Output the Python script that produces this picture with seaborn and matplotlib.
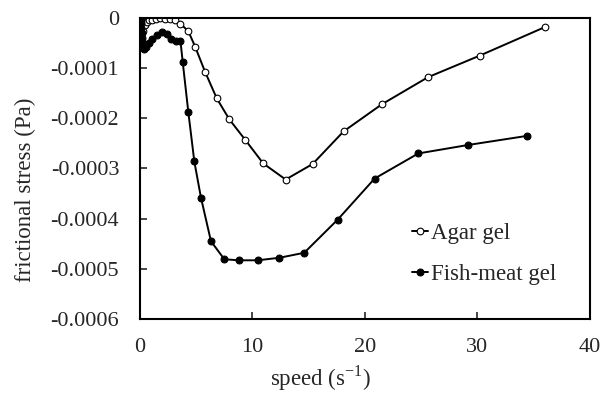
import numpy as np
import pandas as pd
import matplotlib
matplotlib.use("Agg")
import matplotlib.pyplot as plt
import seaborn as sns

# data
agar_speed = [0.3, 0.45, 0.62, 0.83, 1.07, 1.42, 1.81, 2.25, 2.7, 3.14, 3.58, 4.3,
              4.9, 5.78, 6.82, 7.94, 9.36, 10.96, 12.95, 15.35, 18.1, 21.5, 25.6,
              30.2, 36.0]
agar_stress = [-0.000025, -0.000014, -0.0000072, -0.0000044, -0.000004, -0.000002,
               -0.0000008, -0.000001, -0.000002, -0.0000045, -0.000011, -0.0000265,
               -0.000057, -0.000107, -0.00016, -0.000202, -0.000243, -0.00029,
               -0.000322, -0.000291, -0.000226, -0.000172, -0.000118, -0.000075,
               -0.000018]

fish_speed = [0.05, 0.08, 0.12, 0.15, 0.2, 0.25, 0.3, 0.4, 0.55, 0.8, 1.1, 1.5,
              2.0, 2.4, 2.8, 3.2, 3.6, 3.8, 4.3, 4.83, 5.42, 6.31, 7.5, 8.83,
              10.46, 12.38, 14.6, 17.57, 20.86, 24.74, 29.2, 34.4]
fish_stress = [-0.000003, -0.00001, -0.00002, -0.00003, -0.00004, -0.00005,
               -0.000058, -0.000062, -0.000058, -0.00005, -0.000042, -0.000033,
               -0.000027, -0.000031, -0.000042, -0.000045, -0.000046, -0.000088,
               -0.000188, -0.000286, -0.000358, -0.000445, -0.000481, -0.000483,
               -0.000483, -0.000478, -0.000468, -0.000402, -0.00032, -0.00027,
               -0.000253, -0.000235]

x_ticks = [0, 10, 20, 30, 40]
y_ticks = [0, -0.0001, -0.0002, -0.0003, -0.0004, -0.0005, -0.0006]
y_tick_labels = ["0", "-0.0001", "-0.0002", "-0.0003", "-0.0004", "-0.0005", "-0.0006"]

agar = pd.DataFrame({"speed": agar_speed, "stress": agar_stress})
fish = pd.DataFrame({"speed": fish_speed, "stress": fish_stress})

sns.set_style("ticks")
plt.rcParams["font.family"] = ["Liberation Serif", "DejaVu Serif"]
plt.rcParams["mathtext.fontset"] = "custom"
plt.rcParams["mathtext.rm"] = "Liberation Serif"
plt.rcParams["axes.unicode_minus"] = False

fig = plt.figure(figsize=(6, 3.93), dpi=100)
ax = fig.add_axes([0.2333, 0.1883, 0.75, 0.7659])

sns.lineplot(data=agar, x="speed", y="stress", ax=ax, color="black", lw=1.4,
             marker="o", markersize=4.8, markerfacecolor="white",
             markeredgecolor="black", markeredgewidth=0.8, label="Agar gel")
sns.lineplot(data=fish, x="speed", y="stress", ax=ax, color="black", lw=1.4,
             marker="o", markersize=5, markerfacecolor="black",
             markeredgecolor="black", label="Fish-meat gel")

ax.set_xlim(0, 40)
ax.set_ylim(-0.0006, 0)
ax.set_xticks(x_ticks)
ax.set_yticks(y_ticks)
ax.set_yticklabels(y_tick_labels)
ax.tick_params(direction="in", length=5, width=1.2, labelsize=16)
ax.tick_params(axis="y", pad=15)
ax.tick_params(axis="x", pad=14)
for s in ax.spines.values():
    s.set_visible(True)
    s.set_linewidth(1.5)
    s.set_color("black")

ax.set_xlabel(r"speed (s$^{\mathrm{-1}}$)", fontsize=16.5, va="center")
ax.set_ylabel("frictional stress (Pa)", fontsize=16.5, va="center")
ax.xaxis.set_label_coords(0.4, -0.198)
ax.yaxis.set_label_coords(-0.255, 0.43)

ax.legend(loc="upper left", bbox_to_anchor=(0.605, 0.318), frameon=False,
          fontsize=16.5, handlelength=0.7, handletextpad=0.1, labelspacing=0.85,
          borderaxespad=0, borderpad=0)

fig.savefig("out.png", dpi=100)
